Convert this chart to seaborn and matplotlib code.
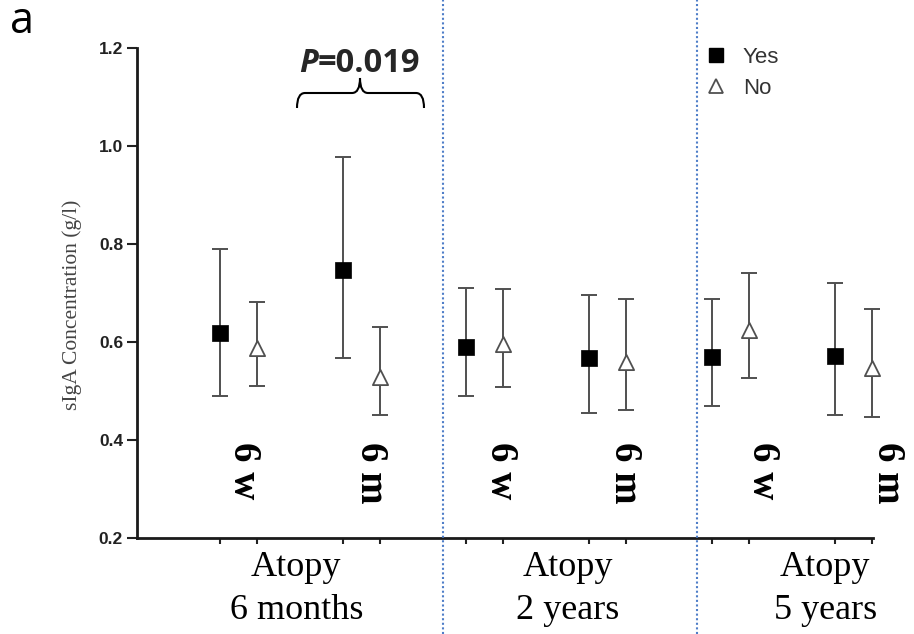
import numpy as np
import pandas as pd
import matplotlib
matplotlib.use("Agg")
import matplotlib.pyplot as plt
import seaborn as sns
from matplotlib.lines import Line2D
from matplotlib.path import Path
from matplotlib.patches import PathPatch
import matplotlib.transforms as mtransforms

# ---------------- data ----------------
sample_time = ["6 w", "6 m", "6 w", "6 m", "6 w", "6 m"]
outcome_labels = ["Atopy\n6 months", "Atopy\n2 years", "Atopy\n5 years"]
series = ["Yes", "No"]

yes_mean = [0.619, 0.746, 0.590, 0.567, 0.569, 0.571]
yes_lo = [0.490, 0.567, 0.490, 0.456, 0.469, 0.451]
yes_hi = [0.790, 0.978, 0.710, 0.696, 0.687, 0.721]

no_mean = [0.588, 0.529, 0.595, 0.560, 0.624, 0.546]
no_lo = [0.510, 0.451, 0.509, 0.461, 0.526, 0.446]
no_hi = [0.681, 0.631, 0.708, 0.687, 0.740, 0.667]

y_ticks = [0.2, 0.4, 0.6, 0.8, 1.0, 1.2]
p_text = "=0.019"

# ---------------- figure ----------------
sns.set_style("ticks")
W, H = 914, 634
fig = plt.figure(figsize=(W / 100, H / 100), dpi=100)
ax = fig.add_axes([137 / W, 1 - 538 / H, (873 - 137) / W, (538 - 48) / H])

dodge = 0.15
rows = []
for i in range(len(sample_time)):
    rows.append(dict(pos=i - dodge, mean=yes_mean[i], lo=yes_lo[i], hi=yes_hi[i], Atopy="Yes"))
    rows.append(dict(pos=i + dodge, mean=no_mean[i], lo=no_lo[i], hi=no_hi[i], Atopy="No"))
df = pd.DataFrame(rows)

# error bars
ax.errorbar(df["pos"], df["mean"], yerr=[df["mean"] - df["lo"], df["hi"] - df["mean"]],
            fmt="none", ecolor="#505050", elinewidth=1.4, capsize=5.5, capthick=1.4,
            zorder=2, clip_on=False)

yes_df = df[df["Atopy"] == "Yes"]
no_df = df[df["Atopy"] == "No"]
sns.scatterplot(data=yes_df, x="pos", y="mean", marker="s", s=130, color="black",
                edgecolor="black", linewidth=0.5, ax=ax, zorder=3, clip_on=False, legend=False)
sns.scatterplot(data=no_df, x="pos", y="mean", marker="^", s=120, color="white",
                edgecolor="#505050", linewidth=1.3, ax=ax, zorder=3, clip_on=False, legend=False)

ax.set_xlim(-0.825, 5.159)
ax.set_ylim(0.2, 1.2)
ax.set_yticks(y_ticks)
ax.set_yticklabels([f"{v:.1f}" for v in y_ticks], fontweight="bold", fontsize=12.5,
                   color="#222222", family="Liberation Sans")
ax.set_xticks(df["pos"].values)
ax.set_xticklabels([])
ax.tick_params(axis="y", length=7, width=1.5, color="#222222", pad=3)
ax.tick_params(axis="x", length=4, width=1.5, color="#222222")
ax.set_xlabel("")
ax.set_ylabel("sIgA Concentration (g/l)", family="Liberation Serif", fontsize=15.5,
              color="#444444")
ax.yaxis.set_label_coords((82 - 137) / (873 - 137), (538 - 305) / (538 - 48))
for s in ["top", "right"]:
    ax.spines[s].set_visible(False)
for s in ["left", "bottom"]:
    ax.spines[s].set_linewidth(2)
    ax.spines[s].set_color("#1a1a1a")

# sample-time labels (rotated)
label_shift = [0.04, 0.07, 0.13, 0.14, 0.26, 0.28]
for i, t in enumerate(sample_time):
    ax.text(i + label_shift[i], 0.395, t, rotation=270, ha="center", va="top",
            family="Liberation Serif", fontweight="bold", fontsize=28, color="black",
            clip_on=False)

# outcome group labels below axis (two lines each)
trans = mtransforms.blended_transform_factory(ax.transData, fig.transFigure)
group_shift = [-0.03, 0.18, 0.27]
baselines = [576, 619]
for k, lab in enumerate(outcome_labels):
    for j, line in enumerate(lab.split("\n")):
        ax.text(2 * k + 0.5 + group_shift[k], 1 - baselines[j] / H, line, transform=trans,
                ha="center", va="baseline", family="Liberation Serif", fontsize=26,
                color="black")

# dotted separators
for xp in [443, 697]:
    fig.add_artist(Line2D([xp / W, xp / W], [0, 1], transform=fig.transFigure,
                          color="#4F7EC8", lw=1.5, linestyle=(0, (1, 1.2))))

# legend
handles = [Line2D([], [], marker="s", linestyle="none", color="black", markersize=10),
           Line2D([], [], marker="^", linestyle="none", markerfacecolor="white",
                  markeredgecolor="#505050", markeredgewidth=1.3, markersize=10)]
leg = fig.legend(handles, series, loc="upper left", bbox_to_anchor=(685 / W, 1 - 27 / H),
                 frameon=False, prop={"family": "Liberation Sans", "size": 16},
                 handletextpad=0.7, labelspacing=0.45, handlelength=1.0)
for t in leg.get_texts():
    t.set_color("#333333")

# P value text and brace
fig.text(318 / W, 1 - 72 / H, "P", ha="right", va="baseline", family="Open Sans",
         fontweight="bold", fontstyle="italic", fontsize=23.5)
fig.text(318 / W, 1 - 72 / H, p_text, ha="left", va="baseline", family="Open Sans",
         fontweight="bold", fontsize=23.5)

pxT = mtransforms.Affine2D().scale(1 / W, -1 / H).translate(0, 1) + fig.transFigure
verts = [(297, 108), (297, 93), (305, 93), (352, 93), (360, 93), (360, 78),
         (360, 93), (368, 93), (416, 93), (424, 93), (424, 108)]
codes = [Path.MOVETO, Path.CURVE3, Path.CURVE3, Path.LINETO, Path.CURVE3, Path.CURVE3,
         Path.CURVE3, Path.CURVE3, Path.LINETO, Path.CURVE3, Path.CURVE3]
fig.add_artist(PathPatch(Path(verts, codes), transform=pxT, fill=False, lw=1.5,
                         edgecolor="black"))

# panel letter
fig.text(10 / W, 1 - 33 / H, "a", ha="left", va="baseline", family="Open Sans",
         fontsize=31, color="black")

fig.savefig("out.png", dpi=100)
